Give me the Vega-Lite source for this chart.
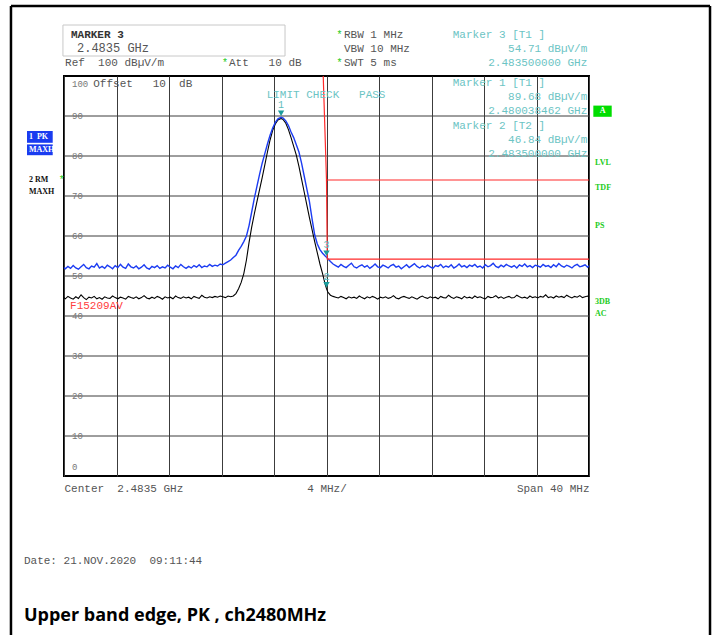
{
  "$schema": "https://vega.github.io/schema/vega-lite/v6.json",
  "width": 525,
  "height": 400,
  "autosize": {"type": "none"},
  "padding": {"left": 64, "top": 76, "right": 126, "bottom": 159},
  "background": "white",
  "config": {
    "view": {"stroke": "#000", "strokeWidth": 2},
    "axis": {"labelOverlap": false, "labelFlush": false, "labelBound": false}
  },
  "datasets": {
    "trace": [
      {"f":2463.5,"pk":52.1,"rm":44.6},{"f":2463.6,"pk":51.8,"rm":44.3},{"f":2463.8,"pk":52.4,"rm":44.9},{"f":2464.0,"pk":51.9,"rm":44.5},
      {"f":2464.2,"pk":52.6,"rm":44.2},{"f":2464.4,"pk":52.0,"rm":44.8},{"f":2464.6,"pk":51.7,"rm":44.4},{"f":2464.8,"pk":52.3,"rm":45.3},
      {"f":2465.0,"pk":52.9,"rm":44.6},{"f":2465.2,"pk":52.1,"rm":44.1},{"f":2465.4,"pk":51.8,"rm":44.7},{"f":2465.6,"pk":52.5,"rm":44.5},
      {"f":2465.8,"pk":52.2,"rm":44.9},{"f":2466.0,"pk":53.1,"rm":44.3},{"f":2466.2,"pk":52.0,"rm":44.6},{"f":2466.4,"pk":52.4,"rm":44.2},
      {"f":2466.6,"pk":51.9,"rm":44.8},{"f":2466.8,"pk":52.7,"rm":44.5},{"f":2467.0,"pk":52.3,"rm":44.4},{"f":2467.2,"pk":51.8,"rm":45.0},
      {"f":2467.4,"pk":52.6,"rm":44.6},{"f":2467.6,"pk":52.1,"rm":44.3},{"f":2467.8,"pk":52.9,"rm":44.7},{"f":2468.0,"pk":52.2,"rm":44.5},
      {"f":2468.2,"pk":51.9,"rm":44.2},{"f":2468.4,"pk":53.0,"rm":44.9},{"f":2468.6,"pk":52.3,"rm":44.6},{"f":2468.8,"pk":52.0,"rm":44.4},
      {"f":2469.0,"pk":52.5,"rm":44.8},{"f":2469.2,"pk":51.8,"rm":44.3},{"f":2469.4,"pk":52.2,"rm":44.6},{"f":2469.6,"pk":52.8,"rm":45.1},
      {"f":2469.8,"pk":52.0,"rm":44.5},{"f":2470.0,"pk":51.7,"rm":44.3},{"f":2470.2,"pk":52.4,"rm":44.7},{"f":2470.4,"pk":52.1,"rm":44.4},
      {"f":2470.6,"pk":52.6,"rm":44.9},{"f":2470.8,"pk":51.9,"rm":44.6},{"f":2471.0,"pk":52.3,"rm":44.2},{"f":2471.2,"pk":52.0,"rm":44.8},
      {"f":2471.4,"pk":52.7,"rm":44.5},{"f":2471.6,"pk":52.2,"rm":44.7},{"f":2471.8,"pk":51.8,"rm":44.3},{"f":2472.0,"pk":52.5,"rm":45.0},
      {"f":2472.2,"pk":52.1,"rm":44.6},{"f":2472.4,"pk":52.9,"rm":44.4},{"f":2472.6,"pk":52.3,"rm":44.8},{"f":2472.8,"pk":51.9,"rm":44.5},
      {"f":2473.0,"pk":52.4,"rm":44.7},{"f":2473.2,"pk":52.0,"rm":44.3},{"f":2473.4,"pk":52.6,"rm":44.9},{"f":2473.6,"pk":52.2,"rm":44.6},
      {"f":2473.8,"pk":52.8,"rm":44.4},{"f":2474.0,"pk":52.1,"rm":45.2},{"f":2474.2,"pk":52.5,"rm":44.7},{"f":2474.4,"pk":52.3,"rm":44.5},
      {"f":2474.6,"pk":52.9,"rm":44.8},{"f":2474.8,"pk":52.4,"rm":44.6},{"f":2475.0,"pk":52.7,"rm":44.9},{"f":2475.2,"pk":52.5,"rm":44.7},
      {"f":2475.4,"pk":53.0,"rm":45.0},
      {"f":2475.6,"pk":52.8,"rm":44.8},{"f":2475.8,"pk":53.2,"rm":44.6},{"f":2476.0,"pk":53.6,"rm":45.0},{"f":2476.2,"pk":54.0,"rm":44.8},
      {"f":2476.4,"pk":54.6,"rm":45.0},{"f":2476.6,"pk":55.2,"rm":45.6},{"f":2476.8,"pk":56.4,"rm":46.8},{"f":2477.0,"pk":57.4,"rm":48.4},
      {"f":2477.2,"pk":58.6,"rm":50.6},{"f":2477.4,"pk":60.0,"rm":54.0},{"f":2477.6,"pk":62.6,"rm":58.4},{"f":2477.8,"pk":66.0,"rm":62.2},
      {"f":2478.0,"pk":69.4,"rm":65.5},{"f":2478.2,"pk":72.4,"rm":68.6},{"f":2478.4,"pk":75.4,"rm":71.6},{"f":2478.6,"pk":78.2,"rm":74.6},
      {"f":2478.8,"pk":80.6,"rm":77.8},{"f":2479.0,"pk":83.0,"rm":81.0},{"f":2479.2,"pk":85.2,"rm":84.0},{"f":2479.4,"pk":87.0,"rm":86.4},
      {"f":2479.6,"pk":88.4,"rm":88.0},{"f":2479.8,"pk":89.3,"rm":89.0},{"f":2480.04,"pk":89.68,"rm":89.4},{"f":2480.2,"pk":89.5,"rm":89.1},
      {"f":2480.4,"pk":88.8,"rm":88.2},{"f":2480.6,"pk":87.6,"rm":86.6},{"f":2480.8,"pk":86.0,"rm":84.6},{"f":2481.0,"pk":84.6,"rm":82.4},
      {"f":2481.2,"pk":82.8,"rm":80.2},{"f":2481.4,"pk":81.0,"rm":77.4},{"f":2481.6,"pk":78.2,"rm":74.2},{"f":2481.8,"pk":75.0,"rm":71.0},
      {"f":2482.0,"pk":71.8,"rm":67.8},{"f":2482.2,"pk":68.6,"rm":64.6},{"f":2482.4,"pk":64.3,"rm":61.6},{"f":2482.6,"pk":60.3,"rm":58.6},
      {"f":2482.8,"pk":58.0,"rm":55.8},{"f":2483.0,"pk":56.6,"rm":53.0},{"f":2483.2,"pk":55.7,"rm":50.6},{"f":2483.4,"pk":55.0,"rm":47.9},
      {"f":2483.5,"pk":54.71,"rm":46.84},{"f":2483.6,"pk":54.3,"rm":46.0},{"f":2483.8,"pk":53.6,"rm":45.2},{"f":2484.0,"pk":53.0,"rm":44.9},
      {"f":2484.2,"pk":52.6,"rm":44.7},{"f":2484.4,"pk":52.2,"rm":44.5},{"f":2484.6,"pk":52.9,"rm":44.9},{"f":2484.8,"pk":52.4,"rm":44.6},
      {"f":2485.0,"pk":52.1,"rm":44.3},{"f":2485.2,"pk":52.7,"rm":44.8},{"f":2485.4,"pk":53.2,"rm":44.5},{"f":2485.6,"pk":52.3,"rm":44.7},
      {"f":2485.8,"pk":52.0,"rm":44.4},{"f":2486.0,"pk":52.5,"rm":45.0},{"f":2486.2,"pk":52.8,"rm":44.6},{"f":2486.4,"pk":52.2,"rm":44.3},
      {"f":2486.6,"pk":52.6,"rm":44.8},{"f":2486.8,"pk":51.9,"rm":44.5},{"f":2487.0,"pk":52.4,"rm":44.9},{"f":2487.2,"pk":53.0,"rm":44.6},
      {"f":2487.4,"pk":52.3,"rm":44.2},{"f":2487.6,"pk":52.1,"rm":44.7},{"f":2487.8,"pk":52.7,"rm":44.5},{"f":2488.0,"pk":52.4,"rm":44.8},
      {"f":2488.2,"pk":52.0,"rm":44.4},{"f":2488.4,"pk":52.6,"rm":44.6},{"f":2488.6,"pk":52.9,"rm":45.1},{"f":2488.8,"pk":52.2,"rm":44.5},
      {"f":2489.0,"pk":52.5,"rm":44.3},{"f":2489.2,"pk":51.8,"rm":44.7},{"f":2489.4,"pk":52.3,"rm":44.9},{"f":2489.6,"pk":52.8,"rm":44.6},
      {"f":2489.8,"pk":52.1,"rm":44.4},{"f":2490.0,"pk":52.6,"rm":44.8},{"f":2490.2,"pk":53.1,"rm":44.5},{"f":2490.4,"pk":52.4,"rm":44.2},
      {"f":2490.6,"pk":52.0,"rm":44.7},{"f":2490.8,"pk":52.5,"rm":45.0},{"f":2491.0,"pk":52.2,"rm":44.6},{"f":2491.2,"pk":52.7,"rm":44.4},
      {"f":2491.4,"pk":52.3,"rm":44.8},{"f":2491.6,"pk":51.9,"rm":44.5},{"f":2491.8,"pk":52.6,"rm":44.7},{"f":2492.0,"pk":52.4,"rm":44.3},
      {"f":2492.2,"pk":52.9,"rm":44.9},{"f":2492.4,"pk":52.1,"rm":44.6},{"f":2492.6,"pk":52.5,"rm":44.5},{"f":2492.8,"pk":52.2,"rm":45.2},
      {"f":2493.0,"pk":52.8,"rm":44.7},{"f":2493.2,"pk":52.0,"rm":44.4},{"f":2493.4,"pk":52.4,"rm":44.8},{"f":2493.6,"pk":53.0,"rm":44.6},
      {"f":2493.8,"pk":52.3,"rm":44.3},{"f":2494.0,"pk":52.6,"rm":44.9},{"f":2494.2,"pk":52.1,"rm":44.5},{"f":2494.4,"pk":52.7,"rm":44.7},
      {"f":2494.6,"pk":52.4,"rm":44.4},{"f":2494.8,"pk":52.9,"rm":45.0},{"f":2495.0,"pk":52.2,"rm":44.6},{"f":2495.2,"pk":52.5,"rm":44.8},
      {"f":2495.4,"pk":52.0,"rm":44.5},{"f":2495.6,"pk":52.8,"rm":44.3},{"f":2495.8,"pk":52.3,"rm":44.9},{"f":2496.0,"pk":52.6,"rm":44.6},
      {"f":2496.2,"pk":53.2,"rm":44.7},{"f":2496.4,"pk":52.4,"rm":45.1},{"f":2496.6,"pk":52.1,"rm":44.5},{"f":2496.8,"pk":52.7,"rm":44.8},
      {"f":2497.0,"pk":52.3,"rm":44.4},{"f":2497.2,"pk":52.9,"rm":44.7},{"f":2497.4,"pk":52.5,"rm":44.9},{"f":2497.6,"pk":52.2,"rm":44.5},
      {"f":2497.8,"pk":52.6,"rm":44.6},{"f":2498.0,"pk":52.0,"rm":45.2},{"f":2498.2,"pk":52.8,"rm":44.8},{"f":2498.4,"pk":52.4,"rm":44.5},
      {"f":2498.6,"pk":53.0,"rm":44.7},{"f":2498.8,"pk":52.3,"rm":44.4},{"f":2499.0,"pk":52.6,"rm":45.0},{"f":2499.2,"pk":52.1,"rm":44.6},
      {"f":2499.4,"pk":52.7,"rm":44.8},{"f":2499.6,"pk":52.5,"rm":44.5},{"f":2499.8,"pk":52.2,"rm":44.9},{"f":2500.0,"pk":52.9,"rm":44.7},
      {"f":2500.2,"pk":52.4,"rm":45.3},{"f":2500.4,"pk":52.6,"rm":44.6},{"f":2500.6,"pk":52.1,"rm":44.8},{"f":2500.8,"pk":52.8,"rm":44.5},
      {"f":2501.0,"pk":52.3,"rm":45.0},{"f":2501.2,"pk":53.1,"rm":44.7},{"f":2501.4,"pk":52.5,"rm":44.9},{"f":2501.6,"pk":52.2,"rm":44.6},
      {"f":2501.8,"pk":52.7,"rm":45.2},{"f":2502.0,"pk":52.4,"rm":44.8},{"f":2502.2,"pk":52.0,"rm":44.5},{"f":2502.4,"pk":52.6,"rm":44.9},
      {"f":2502.6,"pk":52.9,"rm":44.7},{"f":2502.8,"pk":52.3,"rm":45.1},{"f":2503.0,"pk":52.5,"rm":44.6},{"f":2503.2,"pk":52.8,"rm":44.8},
      {"f":2503.4,"pk":52.2,"rm":45.0},{"f":2503.5,"pk":52.6,"rm":44.7}
    ],
    "yticks": [
      {"lvl":0,"txt":"0"},{"lvl":10,"txt":"10"},{"lvl":20,"txt":"20"},{"lvl":30,"txt":"30"},{"lvl":40,"txt":"40"},{"lvl":50,"txt":"50"},
      {"lvl":60,"txt":"60"},{"lvl":70,"txt":"70"},{"lvl":80,"txt":"80"},{"lvl":90,"txt":"90"},{"lvl":100,"txt":"100"}
    ],
    "limits": [
      {"lim":"F15209PK","o":1,"f":2483.25,"lvl":100},
      {"lim":"F15209PK","o":2,"f":2483.5,"lvl":74},
      {"lim":"F15209PK","o":3,"f":2503.5,"lvl":74},
      {"lim":"F15209AV","o":1,"f":2483.5,"lvl":74},
      {"lim":"F15209AV","o":2,"f":2483.56,"lvl":54.2},
      {"lim":"F15209AV","o":3,"f":2503.5,"lvl":54.2}
    ],
    "markers": [
      {"id":"1","f":2480.04,"lvl":89.68},
      {"id":"3","f":2483.5,"lvl":54.71},
      {"id":"2","f":2483.5,"lvl":46.84}
    ],
    "frame": [
      {"f":2459.46,"f2":2459.46,"lvl":117.5,"lvl2":-39.75},
      {"f":2459.46,"f2":2512.72,"lvl":117.5,"lvl2":117.5},
      {"f":2512.72,"f2":2512.72,"lvl":117.5,"lvl2":-39.75}
    ],
    "markerBox": [
      {"f":2463.42,"f2":2480.34,"lvl":112.75,"lvl2":105}
    ],
    "blueBoxes": [
      {"f":2460.68,"f2":2462.64,"lvl":86.25,"lvl2":83.3},
      {"f":2460.68,"f2":2462.64,"lvl":82.9,"lvl2":80.2}
    ],
    "greenBox": [
      {"f":2503.83,"f2":2505.23,"lvl":92.6,"lvl2":89.8}
    ],
    "grayText": [
      {"f":2463.58,"lvl":103.25,"txt":"Ref\u00a0\u00a0100 dBµV/m"},
      {"f":2476.07,"lvl":103.25,"txt":"Att\u00a0\u00a0\u00a010 dB"},
      {"f":2484.83,"lvl":110.25,"txt":"RBW 1 MHz"},
      {"f":2484.83,"lvl":106.75,"txt":"VBW 10 MHz"},
      {"f":2484.83,"lvl":103.25,"txt":"SWT 5 ms"},
      {"f":2465.73,"lvl":97.9,"txt":"Offset\u00a0\u00a0\u00a010\u00a0\u00a0dB"},
      {"f":2460.45,"lvl":-21.25,"txt":"Date: 21.NOV.2020\u00a0\u00a009:11:44"}
    ],
    "grayTextLarge": [
      {"f":2464.49,"lvl":107,"txt":"2.4835 GHz"}
    ],
    "boldText": [
      {"f":2464.03,"lvl":110.25,"txt":"MARKER 3"}
    ],
    "stars": [
      {"f":2475.54,"lvl":103.25,"txt":"*"},
      {"f":2484.26,"lvl":110.25,"txt":"*"},
      {"f":2484.26,"lvl":103.25,"txt":"*"},
      {"f":2463.1,"lvl":74.1,"txt":"*"}
    ],
    "tealLeft": [
      {"f":2493.12,"lvl":110.25,"txt":"Marker 3 [T1 ]"},
      {"f":2493.12,"lvl":98.3,"txt":"Marker 1 [T1 ]"},
      {"f":2493.12,"lvl":87.6,"txt":"Marker 2 [T2 ]"},
      {"f":2478.94,"lvl":95.2,"txt":"LIMIT CHECK\u00a0\u00a0\u00a0PASS"}
    ],
    "tealRight": [
      {"f":2503.37,"lvl":106.75,"txt":"54.71 dBµV/m"},
      {"f":2503.37,"lvl":103.25,"txt":"2.483500000 GHz"},
      {"f":2503.37,"lvl":94.7,"txt":"89.68 dBµV/m"},
      {"f":2503.37,"lvl":91.25,"txt":"2.480038462 GHz"},
      {"f":2503.37,"lvl":84,"txt":"46.84 dBµV/m"},
      {"f":2503.37,"lvl":80.5,"txt":"2.483500000 GHz"}
    ],
    "greenFlags": [
      {"f":2503.96,"lvl":78.3,"txt":"LVL"},
      {"f":2503.96,"lvl":72,"txt":"TDF"},
      {"f":2503.96,"lvl":62.6,"txt":"PS"},
      {"f":2503.96,"lvl":43.6,"txt":"3DB"},
      {"f":2503.96,"lvl":40.6,"txt":"AC"}
    ],
    "traceFlags": [
      {"f":2460.83,"lvl":74.1,"txt":"2 RM"},
      {"f":2460.83,"lvl":71.1,"txt":"MAXH"}
    ],
    "traceFlagsBoxed": [
      {"f":2460.83,"lvl":84.75,"txt":"1\u00a0\u00a0PK"},
      {"f":2460.83,"lvl":81.55,"txt":"MAXH"}
    ],
    "boxA": [
      {"f":2504.53,"lvl":91.2,"txt":"A"}
    ],
    "limitName": [
      {"f":2463.96,"lvl":42.4,"txt":"F15209AV"}
    ],
    "caption": [
      {"f":2460.45,"lvl":-34.9,"txt":"Upper band edge, PK , ch2480MHz"}
    ]
  },
  "layer": [
    {
      "data": {"name": "yticks"},
      "transform": [{"filter": "datum.lvl > 0 && datum.lvl < 100"}],
      "mark": {"type": "rule", "color": "#3c3c3c", "strokeWidth": 1},
      "encoding": {
        "y": {
          "field": "lvl", "type": "quantitative",
          "scale": {"domain": [0, 100], "nice": false, "zero": false},
          "axis": {"title": null, "grid": false, "labels": false, "ticks": false, "domain": false}
        }
      }
    },
    {
      "data": {"name": "trace"},
      "mark": {"type": "line", "color": "#000000", "strokeWidth": 1.1},
      "encoding": {
        "x": {
          "field": "f", "type": "quantitative",
          "scale": {"domain": [2463.5, 2503.5], "nice": false, "zero": false},
          "axis": {
            "title": null, "domain": false, "ticks": false, "grid": true,
            "gridColor": "#3c3c3c", "gridWidth": 1,
            "values": [2463.5, 2467.5, 2471.5, 2475.5, 2479.5, 2483.5, 2487.5, 2491.5, 2495.5, 2499.5, 2503.5],
            "labelExpr": "datum.value == 2463.5 ? 'Center\u00a0\u00a02.4835 GHz' : (datum.value == 2483.5 ? '4 MHz/' : (datum.value == 2503.5 ? 'Span 40 MHz' : ''))",
            "labelAlign": {"condition": [{"test": "datum.value < 2470", "value": "left"}, {"test": "datum.value > 2500", "value": "right"}], "value": "center"},
            "labelBaseline": "top", "labelPadding": 6,
            "labelFont": "Liberation Mono", "labelFontSize": 11, "labelColor": "#555555"
          }
        },
        "y": {"field": "rm", "type": "quantitative", "axis": {"title": null}}
      }
    },
    {
      "data": {"name": "yticks"},
      "transform": [{"filter": "datum.lvl > 0 && datum.lvl < 100"}],
      "mark": {"type": "text", "align": "left", "baseline": "middle", "font": "Liberation Mono", "fontSize": 9, "color": "#777777", "xOffset": 8},
      "encoding": {
        "x": {"datum": 2463.5, "type": "quantitative"},
        "y": {"field": "lvl", "type": "quantitative", "axis": {"title": null}},
        "text": {"field": "txt"}
      }
    },
    {
      "data": {"name": "yticks"},
      "transform": [{"filter": "datum.lvl == 100"}],
      "mark": {"type": "text", "align": "left", "baseline": "middle", "font": "Liberation Mono", "fontSize": 9, "color": "#777777", "xOffset": 8, "yOffset": 8},
      "encoding": {
        "x": {"datum": 2463.5, "type": "quantitative"},
        "y": {"field": "lvl", "type": "quantitative", "axis": {"title": null}},
        "text": {"field": "txt"}
      }
    },
    {
      "data": {"name": "yticks"},
      "transform": [{"filter": "datum.lvl == 0"}],
      "mark": {"type": "text", "align": "left", "baseline": "middle", "font": "Liberation Mono", "fontSize": 9, "color": "#777777", "xOffset": 8, "yOffset": -9},
      "encoding": {
        "x": {"datum": 2463.5, "type": "quantitative"},
        "y": {"field": "lvl", "type": "quantitative", "axis": {"title": null}},
        "text": {"field": "txt"}
      }
    },
    {
      "data": {"name": "trace"},
      "mark": {"type": "line", "color": "#1c3cf2", "strokeWidth": 1.4},
      "encoding": {
        "x": {"field": "f", "type": "quantitative", "axis": {"title": null}},
        "y": {"field": "pk", "type": "quantitative", "axis": {"title": null}}
      }
    },
    {
      "data": {"name": "limits"},
      "mark": {"type": "line", "color": "#ff2a2a", "strokeWidth": 1.2},
      "encoding": {
        "x": {"field": "f", "type": "quantitative", "axis": {"title": null}},
        "y": {"field": "lvl", "type": "quantitative", "axis": {"title": null}},
        "detail": {"field": "lim"},
        "order": {"field": "o"}
      }
    },
    {
      "data": {"name": "markers"},
      "mark": {"type": "point", "shape": "triangle-down", "filled": true, "color": "#1a9c9c", "size": 40, "opacity": 1, "yOffset": -4},
      "encoding": {
        "x": {"field": "f", "type": "quantitative", "axis": {"title": null}},
        "y": {"field": "lvl", "type": "quantitative", "axis": {"title": null}}
      }
    },
    {
      "data": {"name": "markers"},
      "mark": {"type": "text", "font": "Liberation Mono", "fontSize": 10, "color": "#5fbdbd", "yOffset": -12},
      "encoding": {
        "x": {"field": "f", "type": "quantitative", "axis": {"title": null}},
        "y": {"field": "lvl", "type": "quantitative", "axis": {"title": null}},
        "text": {"field": "id"}
      }
    },
    {
      "data": {"name": "frame"},
      "mark": {"type": "rule", "color": "#000000", "strokeWidth": 2.5},
      "encoding": {
        "x": {"field": "f", "type": "quantitative", "axis": {"title": null}},
        "x2": {"field": "f2"},
        "y": {"field": "lvl", "type": "quantitative", "axis": {"title": null}},
        "y2": {"field": "lvl2"}
      }
    },
    {
      "data": {"name": "markerBox"},
      "mark": {"type": "rect", "fill": null, "stroke": "#c8c8c8", "strokeWidth": 1},
      "encoding": {
        "x": {"field": "f", "type": "quantitative", "axis": {"title": null}},
        "x2": {"field": "f2"},
        "y": {"field": "lvl", "type": "quantitative", "axis": {"title": null}},
        "y2": {"field": "lvl2"}
      }
    },
    {
      "data": {"name": "blueBoxes"},
      "mark": {"type": "rect", "color": "#1a3cf0"},
      "encoding": {
        "x": {"field": "f", "type": "quantitative", "axis": {"title": null}},
        "x2": {"field": "f2"},
        "y": {"field": "lvl", "type": "quantitative", "axis": {"title": null}},
        "y2": {"field": "lvl2"}
      }
    },
    {
      "data": {"name": "greenBox"},
      "mark": {"type": "rect", "color": "#00dd00"},
      "encoding": {
        "x": {"field": "f", "type": "quantitative", "axis": {"title": null}},
        "x2": {"field": "f2"},
        "y": {"field": "lvl", "type": "quantitative", "axis": {"title": null}},
        "y2": {"field": "lvl2"}
      }
    },
    {
      "data": {"name": "grayText"},
      "mark": {"type": "text", "align": "left", "baseline": "middle", "font": "Liberation Mono", "fontSize": 11, "color": "#555555"},
      "encoding": {
        "x": {"field": "f", "type": "quantitative", "axis": {"title": null}},
        "y": {"field": "lvl", "type": "quantitative", "axis": {"title": null}},
        "text": {"field": "txt"}
      }
    },
    {
      "data": {"name": "grayTextLarge"},
      "mark": {"type": "text", "align": "left", "baseline": "middle", "font": "Liberation Mono", "fontSize": 12, "color": "#555555"},
      "encoding": {
        "x": {"field": "f", "type": "quantitative", "axis": {"title": null}},
        "y": {"field": "lvl", "type": "quantitative", "axis": {"title": null}},
        "text": {"field": "txt"}
      }
    },
    {
      "data": {"name": "boldText"},
      "mark": {"type": "text", "align": "left", "baseline": "middle", "font": "Liberation Mono", "fontSize": 11, "fontWeight": "bold", "color": "#333333"},
      "encoding": {
        "x": {"field": "f", "type": "quantitative", "axis": {"title": null}},
        "y": {"field": "lvl", "type": "quantitative", "axis": {"title": null}},
        "text": {"field": "txt"}
      }
    },
    {
      "data": {"name": "stars"},
      "mark": {"type": "text", "align": "left", "baseline": "middle", "font": "Liberation Mono", "fontSize": 10, "color": "#22cc22"},
      "encoding": {
        "x": {"field": "f", "type": "quantitative", "axis": {"title": null}},
        "y": {"field": "lvl", "type": "quantitative", "axis": {"title": null}},
        "text": {"field": "txt"}
      }
    },
    {
      "data": {"name": "tealLeft"},
      "mark": {"type": "text", "align": "left", "baseline": "middle", "font": "Liberation Mono", "fontSize": 11, "color": "#6cc4c4"},
      "encoding": {
        "x": {"field": "f", "type": "quantitative", "axis": {"title": null}},
        "y": {"field": "lvl", "type": "quantitative", "axis": {"title": null}},
        "text": {"field": "txt"}
      }
    },
    {
      "data": {"name": "tealRight"},
      "mark": {"type": "text", "align": "right", "baseline": "middle", "font": "Liberation Mono", "fontSize": 11, "color": "#6cc4c4"},
      "encoding": {
        "x": {"field": "f", "type": "quantitative", "axis": {"title": null}},
        "y": {"field": "lvl", "type": "quantitative", "axis": {"title": null}},
        "text": {"field": "txt"}
      }
    },
    {
      "data": {"name": "greenFlags"},
      "mark": {"type": "text", "align": "left", "baseline": "middle", "font": "Liberation Serif", "fontSize": 8, "fontWeight": "bold", "color": "#22cc22"},
      "encoding": {
        "x": {"field": "f", "type": "quantitative", "axis": {"title": null}},
        "y": {"field": "lvl", "type": "quantitative", "axis": {"title": null}},
        "text": {"field": "txt"}
      }
    },
    {
      "data": {"name": "traceFlags"},
      "mark": {"type": "text", "align": "left", "baseline": "middle", "font": "Liberation Serif", "fontSize": 8, "fontWeight": "bold", "color": "#111111"},
      "encoding": {
        "x": {"field": "f", "type": "quantitative", "axis": {"title": null}},
        "y": {"field": "lvl", "type": "quantitative", "axis": {"title": null}},
        "text": {"field": "txt"}
      }
    },
    {
      "data": {"name": "traceFlagsBoxed"},
      "mark": {"type": "text", "align": "left", "baseline": "middle", "font": "Liberation Serif", "fontSize": 8, "fontWeight": "bold", "color": "#ffffff"},
      "encoding": {
        "x": {"field": "f", "type": "quantitative", "axis": {"title": null}},
        "y": {"field": "lvl", "type": "quantitative", "axis": {"title": null}},
        "text": {"field": "txt"}
      }
    },
    {
      "data": {"name": "boxA"},
      "mark": {"type": "text", "align": "center", "baseline": "middle", "font": "Liberation Serif", "fontSize": 8, "fontWeight": "bold", "color": "#ffffff"},
      "encoding": {
        "x": {"field": "f", "type": "quantitative", "axis": {"title": null}},
        "y": {"field": "lvl", "type": "quantitative", "axis": {"title": null}},
        "text": {"field": "txt"}
      }
    },
    {
      "data": {"name": "limitName"},
      "mark": {"type": "text", "align": "left", "baseline": "middle", "font": "Liberation Mono", "fontSize": 11, "color": "#ff4040"},
      "encoding": {
        "x": {"field": "f", "type": "quantitative", "axis": {"title": null}},
        "y": {"field": "lvl", "type": "quantitative", "axis": {"title": null}},
        "text": {"field": "txt"}
      }
    },
    {
      "data": {"name": "caption"},
      "mark": {"type": "text", "align": "left", "baseline": "middle", "font": "Open Sans", "fontSize": 18, "fontWeight": "bold", "color": "#000000"},
      "encoding": {
        "x": {"field": "f", "type": "quantitative", "axis": {"title": null}},
        "y": {"field": "lvl", "type": "quantitative", "axis": {"title": null}},
        "text": {"field": "txt"}
      }
    }
  ]
}
